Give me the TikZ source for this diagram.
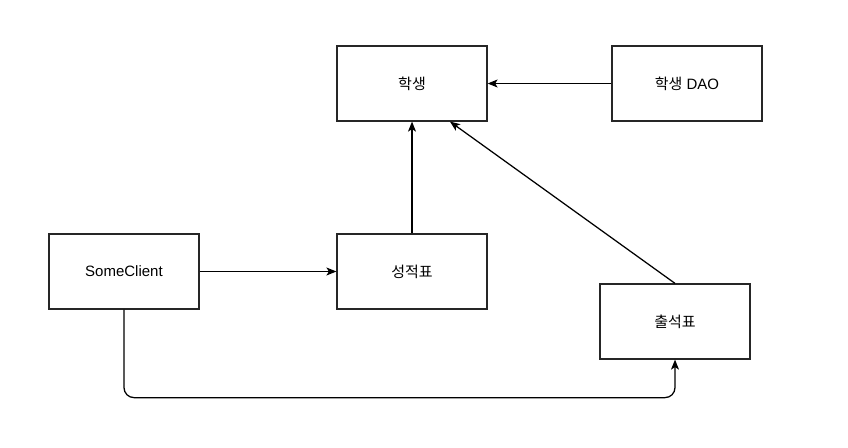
\documentclass[tikz,border=0pt]{standalone}
\usepackage{fontspec}
\setmainfont{Liberation Sans}
\newfontfamily\kr{Noto Sans CJK KR}
\usepackage{tikz}
\usetikzlibrary{shapes,arrows.meta}

\begin{document}
\begin{tikzpicture}[x=1pt, y=-1pt]
    % Define block styles
    \tikzstyle{block} = [rectangle, minimum width=150pt, minimum height=75pt, text centered, draw=black!85, line width=1.25pt, font=\fontsize{15}{18}\selectfont]
    \tikzstyle{arrow} = [line width=1.25pt, -{Stealth[length=10pt,width=8pt,inset=2.5pt]}]

    \useasboundingbox (0,0) rectangle (848,447);

    % Draw nodes
    \node (student) [block] at (412,83.5) {\kr 학생};
    \node (dao) [block] at (687,83.5) {{\kr 학생} DAO};
    \node (client) [block] at (124,271.5) {SomeClient};
    \node (grades) [block] at (412,271.5) {\kr 성적표};
    \node (attend) [block] at (675,321.5) {\kr 출석표};

    % Draw edges
    \draw [arrow] (dao) -- (student);
    \draw [arrow] (grades) -- (student);
    \draw [arrow] (attend.north) -- ([xshift=38pt]student.south);
    \draw [arrow] (client) -- (grades);
    \draw [arrow, rounded corners=10pt] (client.south) -- ++(0,88) -| (attend.south);

\end{tikzpicture}
\end{document}
